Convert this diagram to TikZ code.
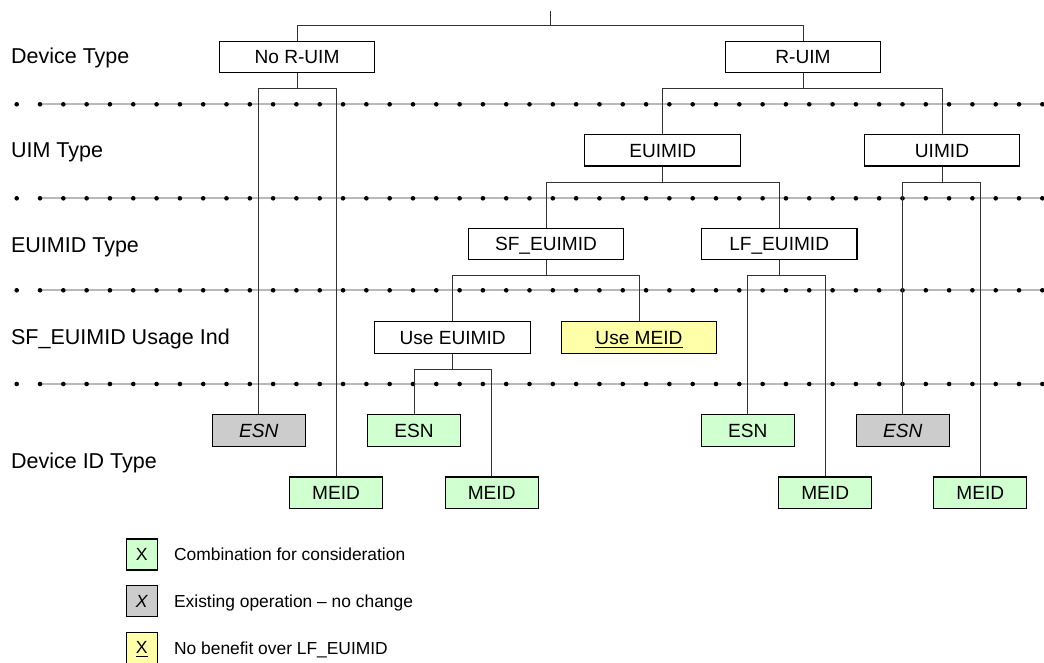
\documentclass[tikz,border=0pt]{standalone}
\usepackage{fontspec}
\setmainfont{Liberation Sans}
\definecolor{leafgreen}{RGB}{208,255,208}
\definecolor{leafgray}{RGB}{204,204,204}
\definecolor{leafyellow}{RGB}{255,255,170}
\definecolor{sepgray}{RGB}{185,185,185}
\begin{document}
\begin{tikzpicture}[x=0.5pt,y=-0.5pt,
  box/.style={draw=black, line width=0.55pt, fill=white, inner sep=0pt,
    minimum width=77.8pt, minimum height=15.7pt,
    text height=6.85pt, text depth=0pt, font=\fontsize{9.55}{11}\selectfont},
  leaf/.style={box, minimum width=46.6pt},
  okbox/.style={leaf, fill=leafgreen},
  oldbox/.style={leaf, fill=leafgray, font=\fontsize{9.55}{11}\selectfont\itshape},
  nobox/.style={box, fill=leafyellow},
  rowlabel/.style={anchor=base west, inner sep=0pt, font=\fontsize{10.75}{13}\selectfont},
  keybox/.style={draw=black, line width=0.55pt, inner sep=0pt,
    minimum width=15.5pt, minimum height=15.5pt,
    text height=6.3pt, text depth=0pt, font=\fontsize{8.8}{10}\selectfont},
  keytext/.style={anchor=west, inner sep=0pt, text height=6.2pt, text depth=0pt,
    font=\fontsize{8.7}{10}\selectfont},
  link/.style={draw=black!80, line width=0.5pt},
  sepline/.style={draw=sepgray, line width=0.8pt}
]
\useasboundingbox (0,0) rectangle (1044,663);

% dotted separators between the levels
\foreach \y in {104.3,198.3,290.3,384} {
  \draw[sepline] (40,\y) -- (1044,\y);
  \foreach \k in {0,...,44}
    \fill ({16.7+23.31*\k},\y) circle[radius=1.15pt];
}

% level names
\node[rowlabel] (lvl1) at (10.7,64)    {Device Type};
\node[rowlabel] (lvl2) at (10.7,157.3) {UIM Type};
\node[rowlabel] (lvl3) at (10.7,252.3) {EUIMID Type};
\node[rowlabel] (lvl4) at (10.7,344)   {SF\_EUIMID Usage Ind};
\node[rowlabel] (lvl5) at (10.7,468.3) {Device ID Type};

% tree nodes
\coordinate (root) at (550,11);
\node[box] (noruim) at (297,57)    {No R-UIM};
\node[box] (ruim)   at (803,57)    {R-UIM};
\node[box] (euimid) at (662.7,150.3) {EUIMID};
\node[box] (uimid)  at (942,150.3) {UIMID};
\node[box] (sf)     at (546,243.8) {SF\_EUIMID};
\node[box] (lf)     at (779.2,243.8) {LF\_EUIMID};
\node[box] (useeuimid) at (452.7,337.4) {Use EUIMID};
\node[nobox] (usemeid) at (639,337.4) {\underline{Use MEID}};

\node[oldbox] (esn1) at (258.7,430.5) {ESN};
\node[okbox]  (esn2) at (414,430.5)   {ESN};
\node[okbox]  (esn3) at (747.7,430.5) {ESN};
\node[oldbox] (esn4) at (902.7,430.5) {ESN};
\node[okbox] (meid1) at (336,492.7)   {MEID};
\node[okbox] (meid2) at (491.7,492.7) {MEID};
\node[okbox] (meid3) at (825.2,492.7) {MEID};
\node[okbox] (meid4) at (980.3,492.7) {MEID};

% connectors
\draw[link] (root) -- ++(0,15) -| (noruim.north);
\draw[link] (root) ++(0,15) -| (ruim.north);
\foreach \p/\c in {noruim/esn1, noruim/meid1, ruim/euimid, ruim/uimid,
                   euimid/sf, euimid/lf, uimid/esn4, uimid/meid4,
                   sf/useeuimid, sf/usemeid, lf/esn3, lf/meid3,
                   useeuimid/esn2, useeuimid/meid2}
  \draw[link] (\p.south) -- ++(0,15.6) -| (\c.north);

% key
\node[keybox, fill=leafgreen]  (k1) at (141.8,554.5) {X};
\node[keybox, fill=leafgray, font=\fontsize{8.8}{10}\selectfont\itshape] (k2) at (141.8,601.2) {X};
\node[keybox, fill=leafyellow] (k3) at (141.8,647.6) {\underline{X}};
\node[keytext] (t1) at (173.7,554.5) {Combination for consideration};
\node[keytext] (t2) at (173.7,601.2) {Existing operation -- no change};
\node[keytext] (t3) at (173.7,647.8) {No benefit over LF\_EUIMID};
\end{tikzpicture}
\end{document}
